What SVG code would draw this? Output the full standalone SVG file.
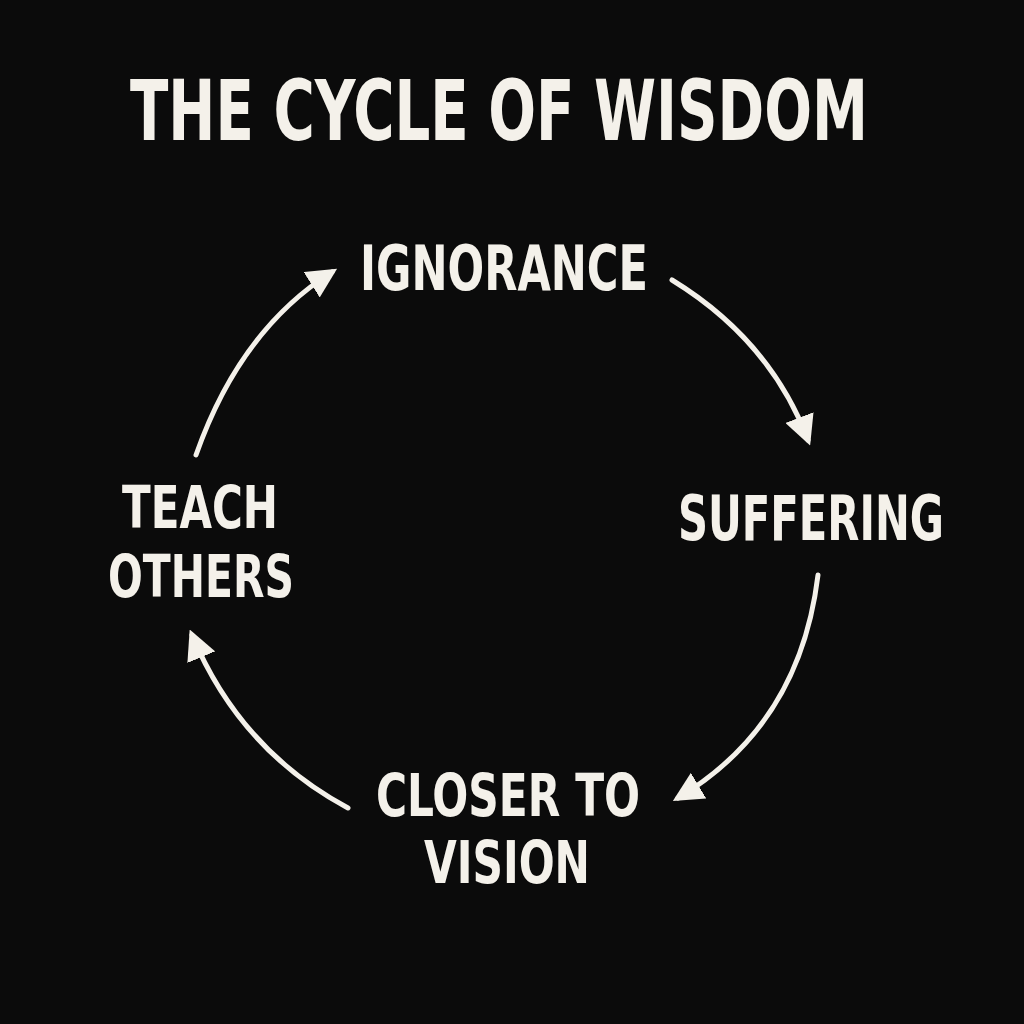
<svg xmlns="http://www.w3.org/2000/svg" width="1024" height="1024" viewBox="0 0 1024 1024">
<style>
text{font-family:"Liberation Sans Narrow","DejaVu Sans Condensed","Liberation Sans",sans-serif;font-weight:bold;fill:#f4f1ea;text-anchor:middle}
.c{fill:none;stroke:#f4f1ea;stroke-width:5;stroke-linecap:round}
</style>
<defs><marker id="a" viewBox="0 0 10 10" refX="8" refY="5" markerWidth="6" markerHeight="6" markerUnits="strokeWidth" orient="auto"><path d="M0,0L10,5L0,10z" fill="#f4f1ea"/></marker></defs>
<rect width="1024" height="1024" fill="#0b0b0b"/>
<text x="499" y="140" font-size="84" textLength="738" lengthAdjust="spacingAndGlyphs">THE CYCLE OF WISDOM</text>
<g id="ignorance"><text x="504" y="290" font-size="62" textLength="288" lengthAdjust="spacingAndGlyphs">IGNORANCE</text></g>
<g id="suffering"><text x="811" y="540" font-size="62" textLength="266" lengthAdjust="spacingAndGlyphs">SUFFERING</text></g>
<g id="closer"><text x="508" y="816" font-size="58" textLength="264" lengthAdjust="spacingAndGlyphs">CLOSER TO</text><text x="507" y="883" font-size="58" textLength="166" lengthAdjust="spacingAndGlyphs">VISION</text></g>
<g id="teach"><text x="200" y="528" font-size="58" textLength="156" lengthAdjust="spacingAndGlyphs">TEACH</text><text x="201" y="597" font-size="58" textLength="186" lengthAdjust="spacingAndGlyphs">OTHERS</text></g>
<g id="connectors">
<path class="c" marker-end="url(#a)" d="M672,280 Q770,340 808,440"/>
<path class="c" marker-end="url(#a)" d="M818,575 Q800,725 678,798"/>
<path class="c" marker-end="url(#a)" d="M348,808 Q240,750 192,635"/>
<path class="c" marker-end="url(#a)" d="M196,455 Q240,330 332,272"/>
</g>
</svg>
